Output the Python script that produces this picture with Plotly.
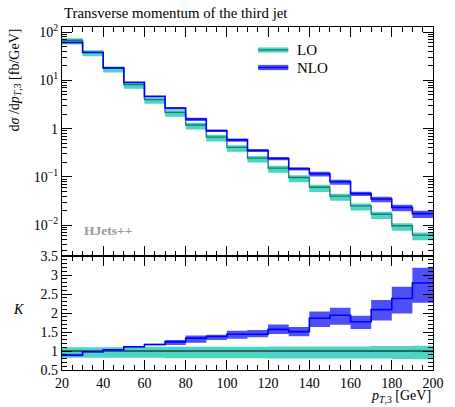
import plotly.graph_objects as go

# ---------------- data ----------------
bin_edges = [20, 30, 40, 50, 60, 70, 80, 90, 100, 110, 120, 130, 140, 150, 160, 170, 180, 190, 200]

lo_vals = [68, 38.5, 17.7, 8.2, 4.0, 2.17, 1.19, 0.67, 0.41, 0.245, 0.152, 0.097,
           0.061, 0.040, 0.025, 0.0168, 0.0097, 0.0062]
nlo_vals = [61, 37.9, 18.2, 9.1, 4.67, 2.68, 1.59, 0.91, 0.585, 0.351, 0.24, 0.147,
            0.116, 0.079, 0.045, 0.0348, 0.0233, 0.0173]

# LO scale band relative to LO central (as seen in ratio panel)
lo_rel_hi = [1.10, 1.10, 1.10, 1.10, 1.11, 1.11, 1.11, 1.11, 1.11, 1.11, 1.12, 1.12,
             1.12, 1.12, 1.12, 1.13, 1.13, 1.14]
lo_rel_lo = [0.82, 0.82, 0.82, 0.82, 0.82, 0.81, 0.81, 0.81, 0.81, 0.81, 0.80, 0.80,
             0.80, 0.80, 0.80, 0.80, 0.79, 0.78]
lo_ratio = [1.0] * 18

# K factor (NLO / LO) and its band
k_vals = [0.89, 0.98, 1.03, 1.11, 1.17, 1.24, 1.34, 1.38, 1.44, 1.44, 1.57, 1.51,
          1.86, 1.94, 1.77, 2.09, 2.38, 2.79]
k_hi = [0.93, 1.00, 1.05, 1.13, 1.19, 1.29, 1.41, 1.43, 1.53, 1.55, 1.70, 1.63,
        2.04, 2.14, 1.93, 2.34, 2.69, 3.19]
k_lo = [0.86, 0.96, 1.01, 1.09, 1.15, 1.16, 1.22, 1.29, 1.32, 1.36, 1.45, 1.39,
        1.63, 1.69, 1.58, 1.80, 1.99, 2.27]

x_ticks = [20, 40, 60, 80, 100, 120, 140, 160, 180, 200]
y_ticks_log = [1e-2, 1e-1, 1, 10, 100]
y_ticktext_log = ["10<sup>−2</sup>", "10<sup>−1</sup>", "1", "10<sup>1</sup>", "10<sup>2</sup>"]
k_ticks = [0.5, 1, 1.5, 2, 2.5, 3, 3.5]
k_ticktext = ["0.5", "1", "1.5", "2", "2.5", "3", "3.5"]

# ---------------- style ----------------
LO_FILL = "rgba(62,208,190,0.92)"
LO_LINE = "#12806f"
NLO_FILL = "rgba(55,55,245,0.88)"
NLO_LINE = "#0000ff"
FONT = "Liberation Serif"


def step(vals):
    return list(vals) + [vals[-1]]


def band(fig, lo, hi, color, row_axes):
    xa, ya = row_axes
    fig.add_trace(go.Scatter(x=bin_edges, y=step(lo), mode="lines", line=dict(width=0, shape="hv"),
                             xaxis=xa, yaxis=ya, showlegend=False, hoverinfo="skip"))
    fig.add_trace(go.Scatter(x=bin_edges, y=step(hi), mode="lines", line=dict(width=0, shape="hv"),
                             fill="tonexty", fillcolor=color,
                             xaxis=xa, yaxis=ya, showlegend=False, hoverinfo="skip"))


def line(fig, vals, color, width, row_axes):
    xa, ya = row_axes
    fig.add_trace(go.Scatter(x=bin_edges, y=step(vals), mode="lines",
                             line=dict(color=color, width=width, shape="hv"),
                             xaxis=xa, yaxis=ya, showlegend=False, hoverinfo="skip"))


fig = go.Figure()
top = ("x", "y")
bot = ("x2", "y2")

lo_band_lo = [v * r for v, r in zip(lo_vals, lo_rel_lo)]
lo_band_hi = [v * r for v, r in zip(lo_vals, lo_rel_hi)]
nlo_band_lo = [v * l / k for v, l, k in zip(nlo_vals, k_lo, k_vals)]
nlo_band_hi = [v * h / k for v, h, k in zip(nlo_vals, k_hi, k_vals)]

band(fig, lo_band_lo, lo_band_hi, LO_FILL, top)
line(fig, lo_vals, LO_LINE, 1.3, top)
band(fig, nlo_band_lo, nlo_band_hi, NLO_FILL, top)
line(fig, nlo_vals, NLO_LINE, 1.6, top)

band(fig, lo_rel_lo, lo_rel_hi, LO_FILL, bot)
line(fig, lo_ratio, "#000000", 1.2, bot)
band(fig, k_lo, k_hi, NLO_FILL, bot)
line(fig, k_vals, NLO_LINE, 1.6, bot)

split = (370 - 256) / 343.0

minor_log = [m * 10 ** d for d in range(-3, 3) for m in range(2, 10)]

common_x = dict(range=[20, 200], tickmode="array", tickvals=x_ticks, ticks="inside", ticklen=10,
                tickcolor="black", tickwidth=1, showline=True, linecolor="black", linewidth=1.2,
                mirror="allticks", showgrid=False, zeroline=False,
                minor=dict(dtick=5, tick0=20, ticks="inside", ticklen=5, tickcolor="black", showgrid=False))

fig.update_layout(
    width=455, height=407,
    margin=dict(l=62, r=11, t=27, b=37),
    plot_bgcolor="white", paper_bgcolor="white",
    font=dict(family=FONT, color="black", size=13),
    showlegend=False,
    xaxis=dict(common_x, anchor="y", domain=[0, 1], showticklabels=False),
    yaxis=dict(type="log", range=[-2.64, 2.107], domain=[split, 1], anchor="x",
               tickmode="array", tickvals=y_ticks_log, ticktext=y_ticktext_log,
               ticks="inside", ticklen=10, tickcolor="black", showline=True, linecolor="black",
               linewidth=1.2, mirror="allticks", showgrid=False, zeroline=False,
               tickfont=dict(size=14),
               minor=dict(tickmode="array", tickvals=minor_log, ticks="inside", ticklen=5,
                          tickcolor="black", showgrid=False)),
    xaxis2=dict(common_x, anchor="y2", domain=[0, 1], matches="x", showticklabels=True,
                tickfont=dict(size=14)),
    yaxis2=dict(range=[0.5, 3.5], domain=[0, split], anchor="x2",
                tickmode="array", tickvals=k_ticks, ticktext=k_ticktext,
                ticks="inside", ticklen=10, tickcolor="black", showline=True, linecolor="black",
                linewidth=1.2, mirror="allticks", showgrid=False, zeroline=False,
                tickfont=dict(size=14),
                minor=dict(dtick=0.1, tick0=0.5, ticks="inside", ticklen=5, tickcolor="black",
                           showgrid=False)),
)

annotations = [
    dict(text="Transverse momentum of the third jet", xref="paper", yref="paper",
         x=0, y=1, yshift=4, xanchor="left", yanchor="bottom", showarrow=False,
         font=dict(size=14.8, family=FONT)),
    dict(text="d<i>σ</i> /d<i>p</i><sub><i>T</i>,3</sub> [fb/GeV]", xref="paper", yref="paper",
         x=0, xshift=-47, y=1, xanchor="center", yanchor="top", textangle=-90, showarrow=False,
         font=dict(size=14, family=FONT)),
    dict(text="<i>K</i>", xref="paper", yref="paper", x=0, xshift=-44, y=split / 2 + 0.01,
         xanchor="center", yanchor="middle", showarrow=False, font=dict(size=14, family=FONT)),
    dict(text="<i>p</i><sub><i>T</i>,3</sub> [GeV]", xref="paper", yref="paper", x=1, y=0,
         yshift=-16, xanchor="right", yanchor="top", showarrow=False,
         font=dict(size=14, family=FONT)),
    dict(text="<b>HJets++</b>", xref="paper", yref="paper", x=0, xshift=20, y=split, yshift=26,
         xanchor="left", yanchor="middle", showarrow=False,
         font=dict(size=13.5, family=FONT, color="#999999")),
    dict(text="LO", xref="paper", yref="paper", x=(302 - 62) / 382, y=(370 - 50) / 343,
         xanchor="left", yanchor="middle", showarrow=False, font=dict(size=15, family=FONT)),
    dict(text="NLO", xref="paper", yref="paper", x=(302 - 62) / 382, y=(370 - 67.5) / 343,
         xanchor="left", yanchor="middle", showarrow=False, font=dict(size=15, family=FONT)),
]
fig.update_layout(annotations=annotations)

# legend swatches
shapes = []
for ypix, fill, lcol in [(50, LO_FILL, LO_LINE), (67.5, NLO_FILL, NLO_LINE)]:
    yc = (370 - ypix) / 343
    shapes.append(dict(type="rect", xref="paper", yref="paper",
                       x0=(264 - 62) / 382, x1=(295 - 62) / 382,
                       y0=yc - 2.6 / 343, y1=yc + 2.6 / 343,
                       fillcolor=fill, line=dict(width=0)))
    shapes.append(dict(type="line", xref="paper", yref="paper",
                       x0=(264 - 62) / 382, x1=(295 - 62) / 382, y0=yc, y1=yc,
                       line=dict(color=lcol, width=1.3)))
fig.update_layout(shapes=shapes)

fig.write_html("out.html", config={"displayModeBar": False},
               post_script="document.body.style.margin='0px';")
